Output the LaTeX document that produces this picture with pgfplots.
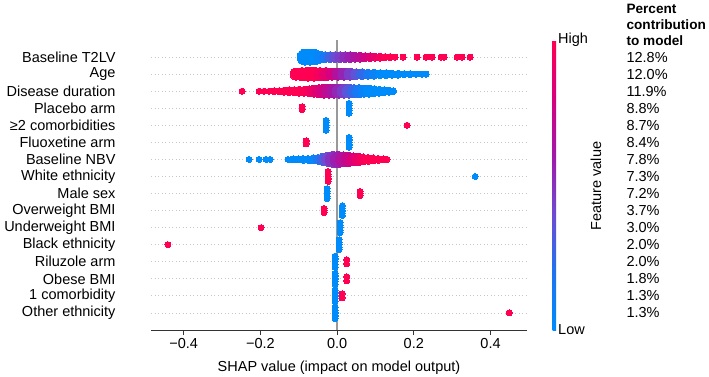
\documentclass[border=0pt]{standalone}
\usepackage{fontspec}
\setmainfont{Liberation Sans}
\usepackage{pgfplots}
\pgfplotsset{compat=1.18}
\pgfplotsset{
  colormap={shap}{rgb255=(0,139,251) rgb255=(30,115,240) rgb255=(110,75,210) rgb255=(160,25,170) rgb255=(215,0,125) rgb255=(255,0,82)},
  bee/.style={scatter, only marks, mark=*, scatter src=explicit,
    scatter/use mapped color={draw=mapped color, fill=mapped color},
    visualization depends on={\thisrow{r} \as \rr},
    scatter/@pre marker code/.append style={/tikz/mark size=\rr},
    line width=0pt},
  rowline/.style={draw=black!22, line width=0.8pt, dash pattern=on 0.9pt off 2.6pt},
}
\newcommand{\fs}{\fontsize{14.5}{17}\selectfont}
\begin{document}
\begin{tikzpicture}[font=\fs]
\useasboundingbox (0,0) rectangle (709pt,376pt);
\begin{axis}[
  at={(151pt,46pt)}, anchor=south west,
  scale only axis, width=376pt, height=290pt,
  xmin=-0.485, xmax=0.495, ymin=0, ymax=17,
  clip=false,
  axis lines*=left,
  axis line style={-},
  y axis line style={draw=none},
  x axis line style={draw=black!80, line width=0.9pt},
  tick align=outside,
  xtick={-0.4,-0.2,0,0.2,0.4},
  xticklabels={−0.4,−0.2,0.0,0.2,0.4},
  x tick style={draw=black!80, line width=0.9pt},
  major tick length=5pt,
  ytick={1,...,16},
  yticklabels={Other ethnicity,1 comorbidity,Obese BMI,Riluzole arm,Black ethnicity,Underweight BMI,Overweight BMI,Male sex,White ethnicity,Baseline NBV,Fluoxetine arm,≥2 comorbidities,Placebo arm,Disease duration,Age,Baseline T2LV},
  y tick style={draw=none},
  yticklabel style={xshift=-27pt},
  xlabel={SHAP value (impact on model output)},
  xlabel style={yshift=-5pt},
  colormap name=shap,
  point meta min=0, point meta max=1,
  colorbar,
  colorbar style={
    at={(parent axis.north east)}, anchor=north west, xshift=17pt,
    width=3.5pt,
    ytick={0,1}, yticklabels={Low,High},
    axis line style={draw=none},
    major tick length=0pt,
    yticklabel style={font=\fs, inner sep=2pt},
  },
]
\pgfplotsinvokeforeach{1,...,16}{\addplot[rowline] coordinates {(-0.485,#1) (0.495,#1)};}

% Baseline T2LV
\addplot[bee] table[x=x,y=y,meta=c] {
x y c r
-0.0834 16 0 8
-0.0704 16 0 8
-0.0574 16 0 7.5
-0.0443 16 0.05 6
-0.0313 16 0.15 5.5
-0.0183 16 0.28 5.5
-0.0052 16 0.38 5.5
0.0078 16 0.45 5.5
0.0209 16 0.52 5.5
0.0339 16 0.58 5.5
0.0469 16 0.64 5
0.0600 16 0.70 5
0.0730 16 0.77 4.5
0.0860 16 0.84 4.5
0.0991 16 0.90 4
0.1121 16 0.95 4
0.1252 16 1 3.5
0.1382 16 1 3.5
0.1512 16 1 3
0.1721 16 1 3
0.2086 16 1 3
0.2321 16 1 3
0.2477 16 1 3
0.2712 16 1 3
0.2790 16 1 3
0.3129 16 1 3
0.3259 16 1 3
0.3468 16 1 3
};
% Age
\addplot[bee] table[x=x,y=y,meta=c] {
x y c r
-0.1069 15 1 6
-0.0913 15 1 6.5
-0.0756 15 1 7
-0.0600 15 1 7
-0.0443 15 0.95 6.5
-0.0287 15 0.87 6.5
-0.0130 15 0.78 6
0.0026 15 0.66 6
0.0183 15 0.55 6
0.0339 15 0.45 6
0.0495 15 0.35 5.5
0.0652 15 0.25 5.5
0.0808 15 0.15 5
0.0965 15 0.07 5
0.1121 15 0 4.5
0.1278 15 0 4.5
0.1434 15 0 4
0.1591 15 0 4
0.1747 15 0 3.5
0.1904 15 0 3.5
0.2060 15 0 3
0.2216 15 0 3
0.2321 15 0 3
};
% Disease duration
\addplot[bee] table[x=x,y=y,meta=c] {
x y c r
-0.2477 14 1 3
-0.2034 14 1 3
-0.1904 14 1 3
-0.1773 14 1 3
-0.1643 14 1 3.5
-0.1512 14 1 3.5
-0.1382 14 1 4
-0.1252 14 1 4.5
-0.1121 14 1 4.5
-0.0991 14 1 5
-0.0860 14 0.98 5
-0.0730 14 0.95 5.5
-0.0600 14 0.90 6
-0.0469 14 0.84 6.5
-0.0339 14 0.77 7
-0.0209 14 0.70 7
-0.0078 14 0.62 7
0.0052 14 0.54 7
0.0183 14 0.45 7
0.0313 14 0.35 7
0.0443 14 0.25 6.5
0.0574 14 0.15 6.5
0.0704 14 0.06 6
0.0834 14 0 6
0.0965 14 0 5.5
0.1095 14 0 5
0.1226 14 0 4.5
0.1356 14 0 4
0.1460 14 0 3.5
};
% Baseline NBV
\addplot[bee] table[x=x,y=y,meta=c] {
x y c r
-0.2295 10 0 3
-0.2034 10 0 3
-0.1851 10 0 3
-0.1747 10 0 3
-0.1278 10 0 3
-0.1147 10 0 3.5
-0.1017 10 0 3.5
-0.0887 10 0 4
-0.0756 10 0 4
-0.0626 10 0.05 4.5
-0.0495 10 0.15 5
-0.0365 10 0.28 6
-0.0235 10 0.40 7
-0.0104 10 0.50 8
0.0026 10 0.58 8
0.0156 10 0.66 7.5
0.0287 10 0.74 7
0.0417 10 0.82 6.5
0.0548 10 0.90 6
0.0678 10 0.96 5.5
0.0808 10 1 5
0.0939 10 1 4.5
0.1069 10 1 4
0.1199 10 1 3.5
0.1304 10 1 3
};
% binary features
\addplot[bee] table[x=x,y=y,meta=c] {
x y c r
-0.0913 12.91 1 3
-0.0913 13.09 1 3
0.0313 12.71 0 3
0.0313 12.855 0 3
0.0313 13 0 3
0.0313 13.145 0 3
0.0313 13.29 0 3
-0.0287 11.71 0 3
-0.0287 11.855 0 3
-0.0287 12 0 3
-0.0287 12.145 0 3
-0.0287 12.29 0 3
0.1825 12 1 3
-0.0808 10.91 1 3
-0.0808 11.09 1 3
0.0313 10.71 0 3
0.0313 10.855 0 3
0.0313 11 0 3
0.0313 11.145 0 3
0.0313 11.29 0 3
-0.0235 8.71 1 3
-0.0235 8.855 1 3
-0.0235 9 1 3
-0.0235 9.145 1 3
-0.0235 9.29 1 3
0.3599 9 0 3
-0.0261 7.71 0 3
-0.0261 7.855 0 3
-0.0261 8 0 3
-0.0261 8.145 0 3
-0.0261 8.29 0 3
0.0600 7.88 1 3
0.0600 8 1 3
0.0600 8.12 1 3
-0.0339 6.88 1 3
-0.0339 7 1 3
-0.0339 7.12 1 3
0.0137 6.71 0 3
0.0137 6.855 0 3
0.0137 7 0 3
0.0137 7.145 0 3
0.0137 7.29 0 3
-0.1982 6 1 3
0.0078 5.71 0 3
0.0078 5.855 0 3
0.0078 6 0 3
0.0078 6.145 0 3
0.0078 6.29 0 3
-0.4407 5 1 3
0.0052 4.71 0 3
0.0052 4.855 0 3
0.0052 5 0 3
0.0052 5.145 0 3
0.0052 5.29 0 3
-0.0052 3.67 0 3
-0.0052 3.83 0 3
-0.0052 4 0 3
-0.0052 4.17 0 3
-0.0052 4.33 0 3
0.0252 3.88 1 3
0.0252 4.12 1 3
-0.0052 2.67 0 3
-0.0052 2.83 0 3
-0.0052 3 0 3
-0.0052 3.17 0 3
-0.0052 3.33 0 3
0.0252 2.88 1 3
0.0252 3.12 1 3
-0.0052 1.67 0 3
-0.0052 1.83 0 3
-0.0052 2 0 3
-0.0052 2.17 0 3
-0.0052 2.33 0 3
0.0130 1.88 1 3
0.0130 2.12 1 3
-0.0052 0.67 0 3
-0.0052 0.83 0 3
-0.0052 1 0 3
-0.0052 1.17 0 3
-0.0052 1.33 0 3
0.4485 1 1 3
};
\addplot[draw=black!40, line width=1.3pt] coordinates {(0,0) (0,17)};

\node[anchor=west, inner sep=0pt, font=\fontsize{13.6}{16}\selectfont\bfseries] at (axis cs:0.754,18.85) {Percent};
\node[anchor=west, inner sep=0pt, font=\fontsize{13.6}{16}\selectfont\bfseries] at (axis cs:0.754,17.9) {contribution};
\node[anchor=west, inner sep=0pt, font=\fontsize{13.6}{16}\selectfont\bfseries] at (axis cs:0.754,16.95) {to model};
\node[anchor=west, inner sep=0pt] at (axis cs:0.754,16) {12.8\%};
\node[anchor=west, inner sep=0pt] at (axis cs:0.754,15) {12.0\%};
\node[anchor=west, inner sep=0pt] at (axis cs:0.754,14) {11.9\%};
\node[anchor=west, inner sep=0pt] at (axis cs:0.754,13) {8.8\%};
\node[anchor=west, inner sep=0pt] at (axis cs:0.754,12) {8.7\%};
\node[anchor=west, inner sep=0pt] at (axis cs:0.754,11) {8.4\%};
\node[anchor=west, inner sep=0pt] at (axis cs:0.754,10) {7.8\%};
\node[anchor=west, inner sep=0pt] at (axis cs:0.754,9) {7.3\%};
\node[anchor=west, inner sep=0pt] at (axis cs:0.754,8) {7.2\%};
\node[anchor=west, inner sep=0pt] at (axis cs:0.754,7) {3.7\%};
\node[anchor=west, inner sep=0pt] at (axis cs:0.754,6) {3.0\%};
\node[anchor=west, inner sep=0pt] at (axis cs:0.754,5) {2.0\%};
\node[anchor=west, inner sep=0pt] at (axis cs:0.754,4) {2.0\%};
\node[anchor=west, inner sep=0pt] at (axis cs:0.754,3) {1.8\%};
\node[anchor=west, inner sep=0pt] at (axis cs:0.754,2) {1.3\%};
\node[anchor=west, inner sep=0pt] at (axis cs:0.754,1) {1.3\%};
\end{axis}
\node[rotate=90] at (596pt,190pt) {Feature value};
\end{tikzpicture}
\end{document}
